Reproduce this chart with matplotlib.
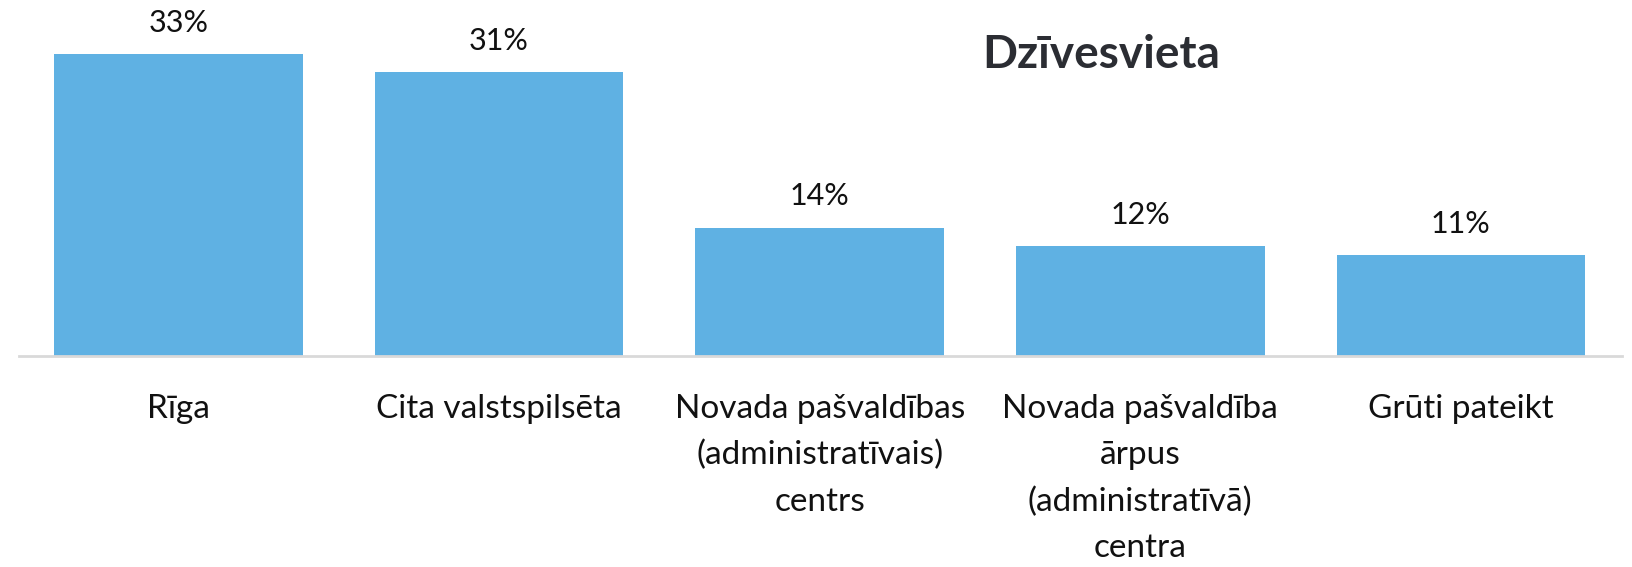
import matplotlib
matplotlib.use("Agg")
import matplotlib.pyplot as plt

categories = ["Rīga", "Cita valstspilsēta",
              "Novada pašvaldības\n(administratīvais)\ncentrs",
              "Novada pašvaldība\nārpus\n(administratīvā)\ncentra",
              "Grūti pateikt"]
values = [33, 31, 14, 12, 11]
title = "Dzīvesvieta"

plt.rcParams['font.family'] = ['Lato', 'DejaVu Sans']

fig = plt.figure(figsize=(16.32, 5.67), dpi=100)
ax = fig.add_axes([19 / 1632, 1 - 356 / 567, 1603 / 1632, 356 / 567])

x = list(range(len(values)))
bars = ax.bar(x, values, width=0.776, color="#5fb1e3", zorder=2)
for xi, v in zip(x, values):
    ax.text(xi, v + 1.9, "{}%".format(v), ha="center", va="bottom",
            fontsize=22, color="#111111", clip_on=False)

ax.set_xlim(-0.4975, 4.5025)
ax.set_ylim(0, 38.9)
ax.set_yticks([])
ax.set_xticks(x)
ax.set_xticklabels(categories, fontsize=24, color="#111111")
for lbl in ax.get_xticklabels():
    lbl.set_linespacing(1.68)
ax.tick_params(axis="x", length=0, pad=27)
for s in ["top", "left", "right"]:
    ax.spines[s].set_visible(False)
ax.spines["bottom"].set_color("#d9d9d9")
ax.spines["bottom"].set_linewidth(2)
ax.patch.set_visible(False)

fig.text(1101 / 1632, 1 - 55 / 567, title, ha="center", va="center",
         fontsize=33, fontweight="bold", color="#2b2d33")

fig.savefig("out.png", dpi=100)
